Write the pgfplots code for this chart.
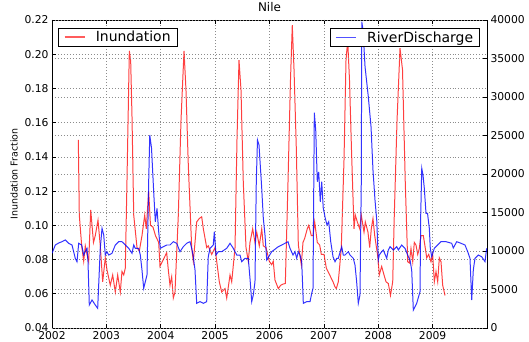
\documentclass[border=0pt]{standalone}
\usepackage{fontspec}
\setmainfont{DejaVu Sans}
\usepackage{pgfplots}
\pgfplotsset{compat=1.18}
\begin{document}
\begin{tikzpicture}
\pgfplotsset{
 every axis/.append style={
  scale only axis, width=435bp, height=308bp,
  xmin=2002, xmax=2010,
  tick label style={font=\fontsize{10.8}{12}\selectfont},
  /pgf/number format/assume math mode=true,
  major tick length=4bp,
  tick align=inside,
  axis line style={line width=0.9pt},
  major tick style={line width=0.6pt, black},
  grid style={dash pattern=on 1pt off 2pt, black!45, line width=0.6pt},
  legend style={font=\fontsize{14}{16}\selectfont, draw=black, line width=0.9pt,
    inner xsep=5pt, inner ysep=1pt, nodes={inner xsep=1.5pt},
    /tikz/every odd column/.append style={column sep=9bp}},
  legend cell align=left,
 },
}
\begin{axis}[
 name=ax1,
 ymin=0.04, ymax=0.22,
 ytick={0.04,0.06,0.08,0.10,0.12,0.14,0.16,0.18,0.20,0.22},
 yticklabel style={/pgf/number format/.cd, fixed, fixed zerofill, precision=2},
 xtick={2002,2003,2004,2005,2006,2007,2008,2009},
 xticklabel style={/pgf/number format/1000 sep={}},
 ytick pos=left,
 xmajorgrids, ymajorgrids,
 title={Nile}, title style={font=\fontsize{12}{14}\selectfont, inner sep=2pt},
 ylabel={Inundation Fraction}, ylabel style={font=\fontsize{9.5}{11}\selectfont},
 legend style={at={(0.0145,0.975)}, anchor=north west},
]
\addplot[red, opacity=0.75, line width=1pt,
 legend image code/.code={\draw[red!85, line width=1.6pt] (0bp,0bp) -- (20bp,0bp);}] table {
2002.484 0.150
2002.502 0.106
2002.546 0.088
2002.583 0.079
2002.612 0.088
2002.644 0.083
2002.675 0.079
2002.712 0.109
2002.763 0.090
2002.796 0.094
2002.846 0.103
2002.888 0.088
2002.932 0.067
2002.980 0.081
2003.011 0.074
2003.072 0.065
2003.116 0.071
2003.164 0.061
2003.208 0.071
2003.256 0.061
2003.287 0.073
2003.319 0.071
2003.348 0.075
2003.379 0.126
2003.422 0.202
2003.447 0.196
2003.471 0.164
2003.503 0.106
2003.563 0.087
2003.606 0.085
2003.655 0.094
2003.705 0.106
2003.734 0.098
2003.778 0.120
2003.811 0.100
2003.857 0.099
2003.903 0.094
2003.962 0.090
2003.986 0.076
2004.047 0.080
2004.109 0.084
2004.139 0.074
2004.170 0.065
2004.201 0.070
2004.231 0.0575
2004.262 0.061
2004.323 0.106
2004.372 0.161
2004.428 0.202
2004.464 0.179
2004.507 0.135
2004.569 0.087
2004.599 0.079
2004.630 0.090
2004.661 0.102
2004.709 0.104
2004.753 0.105
2004.783 0.098
2004.845 0.087
2004.874 0.088
2004.937 0.083
2004.998 0.087
2005.029 0.079
2005.077 0.067
2005.121 0.061
2005.182 0.063
2005.213 0.0575
2005.274 0.071
2005.305 0.067
2005.366 0.087
2005.402 0.150
2005.439 0.1966
2005.476 0.179
2005.518 0.125
2005.568 0.087
2005.610 0.079
2005.641 0.090
2005.691 0.098
2005.733 0.090
2005.765 0.096
2005.812 0.088
2005.857 0.098
2005.886 0.088
2005.936 0.087
2005.996 0.079
2006.040 0.077
2006.069 0.079
2006.101 0.068
2006.162 0.063
2006.206 0.065
2006.254 0.0657
2006.291 0.066
2006.340 0.125
2006.386 0.185
2006.419 0.217
2006.451 0.191
2006.493 0.145
2006.530 0.0885
2006.585 0.077
2006.616 0.090
2006.647 0.0924
2006.695 0.098
2006.721 0.100
2006.769 0.094
2006.800 0.094
2006.831 0.102
2006.879 0.090
2006.923 0.0885
2006.953 0.083
2007.002 0.083
2007.045 0.075
2007.107 0.071
2007.168 0.067
2007.205 0.064
2007.229 0.063
2007.265 0.067
2007.320 0.0865
2007.370 0.138
2007.407 0.1966
2007.438 0.208
2007.471 0.185
2007.508 0.144
2007.554 0.098
2007.578 0.106
2007.615 0.102
2007.659 0.098
2007.688 0.106
2007.738 0.096
2007.762 0.102
2007.811 0.096
2007.843 0.087
2007.872 0.098
2007.903 0.104
2007.935 0.094
2007.995 0.081
2008.019 0.071
2008.063 0.076
2008.106 0.071
2008.143 0.067
2008.185 0.066
2008.225 0.059
2008.266 0.067
2008.295 0.106
2008.345 0.161
2008.400 0.2035
2008.446 0.191
2008.497 0.125
2008.542 0.0787
2008.571 0.078
2008.602 0.0865
2008.634 0.0787
2008.663 0.090
2008.694 0.0885
2008.726 0.083
2008.755 0.0865
2008.786 0.094
2008.829 0.094
2008.866 0.0865
2008.891 0.081
2008.928 0.083
2008.970 0.0787
2009.001 0.083
2009.031 0.067
2009.062 0.073
2009.093 0.067
2009.123 0.081
2009.154 0.0787
2009.185 0.065
2009.228 0.059
};
\addlegendentry{Inundation}
\end{axis}
\begin{axis}[
 ymin=0, ymax=40000,
 ytick={0,5000,10000,15000,20000,25000,30000,35000,40000},
 scaled y ticks=false,
 yticklabel style={/pgf/number format/1000 sep={}},
 hide x axis,
 ytick pos=right,
 ymajorgrids,
 legend style={at={(0.984,0.974)}, anchor=north east},
]
\addplot[blue, opacity=0.8, line width=1pt,
 legend image code/.code={\draw[blue!85, line width=1.6pt] (0bp,0bp) -- (20bp,0bp);}] table {
2002.000 9700
2002.061 10780
2002.123 11040
2002.184 11210
2002.245 11430
2002.307 11000
2002.368 10780
2002.428 9050
2002.460 8610
2002.491 11000
2002.546 10780
2002.583 9480
2002.612 9910
2002.644 10350
2002.662 8610
2002.686 2990
2002.736 3640
2002.796 2990
2002.840 2560
2002.888 10350
2002.920 12950
2002.951 12080
2002.980 9480
2003.011 9910
2003.043 9480
2003.103 9700
2003.164 10780
2003.227 11210
2003.287 11210
2003.348 10780
2003.411 10350
2003.471 9700
2003.503 10780
2003.532 10350
2003.594 10350
2003.624 9480
2003.655 7530
2003.686 5150
2003.716 6010
2003.747 6880
2003.778 19000
2003.798 25060
2003.830 23380
2003.870 17700
2003.900 13800
2003.931 15540
2003.962 12500
2003.992 10350
2004.047 10560
2004.109 10780
2004.170 10780
2004.231 11210
2004.293 11000
2004.354 9910
2004.415 10560
2004.477 11000
2004.538 11210
2004.569 10350
2004.599 9260
2004.630 7530
2004.661 3210
2004.722 3420
2004.783 3210
2004.845 3420
2004.874 9260
2004.906 10350
2004.966 10780
2004.985 12500
2005.016 9480
2005.058 9910
2005.121 9910
2005.213 10350
2005.274 11000
2005.334 10350
2005.397 9480
2005.458 9480
2005.489 8610
2005.549 9050
2005.610 9050
2005.641 6450
2005.673 3420
2005.702 4290
2005.733 6010
2005.757 19000
2005.779 24420
2005.807 23770
2005.857 18140
2005.886 14250
2005.917 12080
2005.949 8830
2006.040 9910
2006.162 10560
2006.285 11000
2006.340 11210
2006.377 10350
2006.432 9480
2006.469 9910
2006.500 9050
2006.530 9910
2006.561 9480
2006.592 8610
2006.603 6660
2006.622 3210
2006.684 3420
2006.745 3420
2006.776 4500
2006.800 5150
2006.824 27960
2006.850 25710
2006.879 19000
2006.905 20260
2006.934 16400
2006.960 19000
2006.989 15540
2007.026 14250
2007.057 13380
2007.089 13800
2007.126 11210
2007.168 9260
2007.205 8610
2007.236 9050
2007.265 9050
2007.328 10560
2007.357 9480
2007.388 9480
2007.449 9910
2007.480 9480
2007.541 9050
2007.572 8180
2007.600 6230
2007.633 3210
2007.664 4290
2007.688 19000
2007.697 39780
2007.720 38700
2007.757 33930
2007.817 30040
2007.867 26140
2007.903 20520
2007.940 16620
2007.972 14030
2008.001 8830
2008.019 9480
2008.063 9910
2008.093 10130
2008.155 9050
2008.185 10130
2008.216 10560
2008.277 10130
2008.339 10560
2008.369 10130
2008.431 10780
2008.492 10350
2008.553 9260
2008.584 8830
2008.615 7530
2008.645 2340
2008.707 3210
2008.768 4710
2008.781 14680
2008.800 20740
2008.823 19870
2008.847 18140
2008.878 14900
2008.906 14900
2008.939 12950
2008.957 10350
2008.983 9260
2009.031 10350
2009.093 10780
2009.154 11210
2009.246 11210
2009.351 11000
2009.380 10390
2009.443 11210
2009.522 11000
2009.595 10780
2009.645 9910
2009.687 9050
2009.719 3640
2009.748 7530
2009.779 9050
2009.840 9480
2009.902 9260
2009.963 8610
2009.994 10350
};
\addlegendentry{RiverDischarge}
\end{axis}
\pgfresetboundingbox
\path (ax1.south west) ++(-52bp,-13bp) coordinate (bl);
\path (ax1.north east) ++(42bp,20bp) coordinate (tr);
\path[use as bounding box] (bl) rectangle (tr);
\end{tikzpicture}
\end{document}
